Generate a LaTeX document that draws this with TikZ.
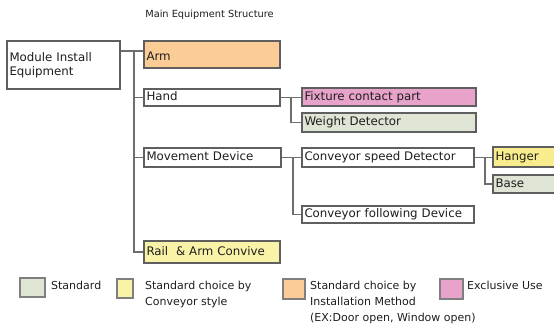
\documentclass[tikz,border=0pt]{standalone}
\usepackage{fontspec}
\setmainfont{DejaVu Sans}
\definecolor{cOr}{RGB}{252,204,150}
\definecolor{cPk}{RGB}{232,163,202}
\definecolor{cGr}{RGB}{222,229,212}
\definecolor{cYl}{RGB}{249,243,168}
\definecolor{cYh}{RGB}{249,236,140}
\definecolor{cBd}{RGB}{95,95,95}
\definecolor{cLn}{RGB}{110,110,110}
\definecolor{cTx}{RGB}{30,30,30}
\tikzset{
  bx/.style={draw=cBd, line width=1.4pt, fill=white, inner xsep=2.5pt, inner ysep=0pt,
    align=left, text=cTx, font=\fontsize{11.8}{14}\selectfont, text height=9pt, text depth=2.5pt},
  sw/.style={draw=cBd!80, line width=1.2pt, inner sep=0pt},
  lg/.style={anchor=north west, align=left, inner sep=0pt, text=cTx, font=\fontsize{11}{16}\selectfont},
  ln/.style={draw=cLn, line width=1.2pt}
}
\begin{document}
\begin{tikzpicture}[x=1pt,y=-1pt]
\useasboundingbox (0,0) rectangle (554,331);
\clip (0,0) rectangle (554,331);
\fill[white] (0,0) rectangle (554,331);
% title
\node[text=cTx, font=\fontsize{9.8}{11}\selectfont, inner sep=0pt] (title) at (209.5,15) {Main Equipment Structure};
% boxes
\node[bx, minimum height=48pt, text width=108pt, text height=, text depth=] (mod) at (63.5,65) {Module Install\\Equipment};
\node[bx, fill=cOr, minimum height=27pt, text width=131pt, text height=15pt] (arm) at (212,54.5) {Arm};
\node[bx, minimum height=17pt, text width=131pt] (hand) at (212,97.5) {Hand};
\node[bx, fill=cPk, minimum height=18pt, text width=169pt] (fix) at (389,97) {Fixture contact part};
\node[bx, fill=cGr, minimum height=19pt, text width=169pt] (wgt) at (389,122.5) {Weight Detector};
\node[bx, minimum height=19pt, text width=132pt] (mov) at (212.5,157.5) {Movement Device};
\node[bx, minimum height=19pt, text width=167pt] (cspd) at (388,157.5) {Conveyor speed Detector};
\node[bx, minimum height=17pt, text width=167pt] (cfol) at (388,214.5) {Conveyor following Device};
\node[bx, fill=cYh, minimum height=20pt, text width=62pt] (hang) at (526.5,157) {Hanger};
\node[bx, fill=cGr, minimum height=18pt, text width=62pt] (base) at (526.5,184) {Base};
\node[bx, fill=cYl, minimum height=22pt, text width=131pt] (rail) at (212,252) {Rail\ \ \& Arm Convive};
% connectors
\coordinate (t0) at (134,51);
\draw[ln] ([yshift=3.5pt]arm.west) -- ([yshift=3.5pt]arm.west -| mod.east);
\draw[ln] (t0) |- (rail.west);
\draw[ln] (t0 |- hand.west) -- (hand.west);
\draw[ln] (t0 |- mov.west) -- (mov.west);
\coordinate (j1) at (291,97.5);
\draw[ln] (hand.east) -- (hand.east -| fix.west);
\draw[ln] (j1) |- (wgt.west);
\coordinate (j2) at (293,157.5);
\draw[ln] (mov.east) -- (cspd.west);
\draw[ln] (j2) |- (cfol.west);
\coordinate (j3) at (485,157.5);
\draw[ln] (cspd.east) -- (cspd.east -| hang.west);
\draw[ln] (j3) |- (base.west);
% legend
\node[sw, fill=cGr, minimum width=25pt, minimum height=19pt] (s1) at (32.5,287.5) {};
\node[lg] (l1) at (51,280.5) {Standard};
\node[sw, fill=cYl, minimum width=16pt, minimum height=19pt] (s2) at (125,288.5) {};
\node[lg] (l2) at (145,280.5) {Standard choice by\\Conveyor style};
\node[sw, fill=cOr, minimum width=22pt, minimum height=20pt] (s3) at (294,289) {};
\node[lg] (l3) at (310,280.5) {Standard choice by\\Installation Method\\(EX:Door open, Window open)};
\node[sw, fill=cPk, minimum width=23pt, minimum height=20pt] (s4) at (451.5,289) {};
\node[lg] (l4) at (467,280.5) {Exclusive Use};
\end{tikzpicture}
\end{document}
